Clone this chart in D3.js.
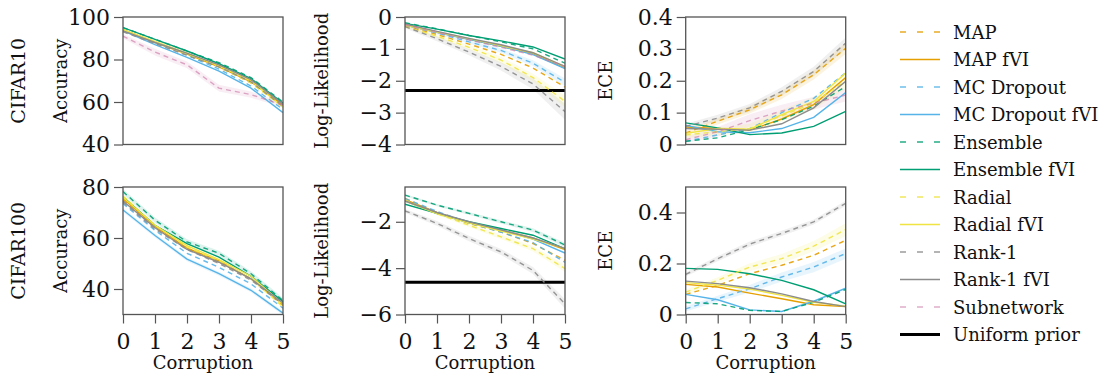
<!DOCTYPE html>
<html>
<head>
<meta charset="utf-8">
<script src="https://cdn.jsdelivr.net/npm/d3@7"></script>
<style>
  body { margin: 0; background: #fff; }
  svg { font-family: "DejaVu Serif", serif; }
</style>
</head>
<body>
<div id="chart"></div>
<script>
// methods in legend order; odd indices are the fVI (solid) variants
const methods = ["MAP", "MAP fVI", "MC Dropout", "MC Dropout fVI", "Ensemble", "Ensemble fVI",
  "Radial", "Radial fVI", "Rank-1", "Rank-1 fVI", "Subnetwork"];
const methodColors = ["#E69F00", "#E69F00", "#56B4E9", "#56B4E9", "#009E73", "#009E73",
  "#F0E442", "#F0E442", "#8c8c8c", "#8c8c8c", "#CC79A7"];
const dashed = [true, false, true, false, true, false, true, false, true, false, true];
const corruption = [0, 1, 2, 3, 4, 5];

// CIFAR10
const accC10 = [
  [94, 88, 82.5, 76.5, 69, 58],
  [94, 88, 82.5, 76.5, 69.5, 58.5],
  [94, 88, 82, 75.5, 67.5, 56.5],
  [93.5, 87, 81, 74.5, 66.5, 55],
  [95, 89.5, 84, 78.5, 71.5, 60],
  [95, 89.5, 84, 78, 71, 59.5],
  [94, 88, 82.5, 76.5, 69, 57.5],
  [94, 88.5, 83, 77, 70, 57.5],
  [93, 87.5, 82, 76.5, 69.5, 58],
  [93.5, 88, 83, 77.5, 70.5, 59],
  [91, 83.5, 77.5, 66.5, 63.5, 58.5]
];
const llC10 = [
  [-0.28, -0.55, -0.85, -1.17, -1.6, -2.2],
  [-0.25, -0.48, -0.7, -0.92, -1.15, -1.6],
  [-0.25, -0.5, -0.78, -1.05, -1.45, -2.05],
  [-0.25, -0.48, -0.7, -0.92, -1.18, -1.62],
  [-0.18, -0.37, -0.58, -0.78, -1.0, -1.45],
  [-0.2, -0.38, -0.58, -0.75, -0.94, -1.32],
  [-0.3, -0.6, -0.95, -1.35, -1.9, -2.65],
  [-0.25, -0.47, -0.68, -0.9, -1.12, -1.55],
  [-0.3, -0.68, -1.1, -1.55, -2.1, -2.97],
  [-0.22, -0.45, -0.67, -0.87, -1.12, -1.55],
  [-0.25, -0.48, -0.72, -0.95, -1.2, -1.55]
];
const eceC10 = [
  [0.036, 0.073, 0.109, 0.156, 0.219, 0.302],
  [0.055, 0.05, 0.045, 0.08, 0.125, 0.21],
  [0.01, 0.03, 0.05, 0.1, 0.145, 0.225],
  [0.06, 0.04, 0.037, 0.05, 0.085, 0.163],
  [0.01, 0.021, 0.047, 0.078, 0.12, 0.182],
  [0.068, 0.052, 0.031, 0.036, 0.057, 0.104],
  [0.03, 0.04, 0.05, 0.09, 0.13, 0.2],
  [0.035, 0.05, 0.048, 0.094, 0.135, 0.224],
  [0.057, 0.083, 0.115, 0.167, 0.229, 0.318],
  [0.05, 0.048, 0.045, 0.065, 0.115, 0.198],
  [0.015, 0.04, 0.075, 0.105, 0.13, 0.155]
];

// CIFAR100 (no Subnetwork)
const accC100 = [
  [75, 64, 56, 50.5, 44, 33.5],
  [75.5, 64.5, 56, 51, 44, 34],
  [73.5, 63, 54, 48.5, 42, 32.5],
  [71, 61, 51.7, 46, 39.5, 30.5],
  [78.2, 67, 58.5, 54, 46, 35.5],
  [76.2, 65, 57.8, 52.5, 45, 35],
  [76.5, 65, 56.5, 51, 44, 33],
  [76, 65, 57, 51.5, 45, 34],
  [74, 63.5, 55.5, 50, 43.5, 34],
  [74.5, 64, 55.5, 50.5, 44, 34.5],
  null
];
const llC100 = [
  [-0.99, -1.6, -2.07, -2.44, -2.94, -3.66],
  [-1.05, -1.6, -2.05, -2.35, -2.7, -3.2],
  [-1.0, -1.55, -2.05, -2.45, -2.9, -3.75],
  [-1.1, -1.65, -2.05, -2.35, -2.75, -3.35],
  [-0.85, -1.28, -1.64, -2.0, -2.36, -3.0],
  [-1.24, -1.64, -2.0, -2.29, -2.58, -3.16],
  [-1.06, -1.65, -2.15, -2.65, -3.16, -4.02],
  [-1.1, -1.65, -2.05, -2.4, -2.75, -3.15],
  [-1.53, -2.07, -2.72, -3.3, -4.1, -5.54],
  [-1.1, -1.6, -2.0, -2.35, -2.7, -3.15],
  null
];
const eceC100 = [
  [0.079, 0.114, 0.16, 0.193, 0.232, 0.291],
  [0.118, 0.108, 0.084, 0.062, 0.038, 0.031],
  [0.022, 0.062, 0.101, 0.147, 0.186, 0.239],
  [0.079, 0.058, 0.018, 0.012, 0.052, 0.103],
  [0.047, 0.042, 0.016, 0.012, 0.048, 0.098],
  [0.181, 0.177, 0.16, 0.134, 0.097, 0.042],
  [0.088, 0.134, 0.186, 0.219, 0.268, 0.333],
  [0.125, 0.115, 0.1, 0.075, 0.048, 0.033],
  [0.157, 0.219, 0.276, 0.318, 0.363, 0.436],
  [0.131, 0.121, 0.105, 0.081, 0.051, 0.031],
  null
];

// shaded spread (method index, +/- values)
const accC10Spread = [[10, [1.0, 1.6, 1.6, 1.6, 1.5, 1.0]]];
const llC10Spread = [[8, [0.05, 0.08, 0.1, 0.13, 0.17, 0.25]], [6, [0.03, 0.05, 0.07, 0.1, 0.12, 0.18]], [2, [0.03, 0.04, 0.05, 0.07, 0.09, 0.12]]];
const eceC10Spread = [[8, [0.008, 0.01, 0.012, 0.013, 0.015, 0.018]], [0, [0.008, 0.01, 0.012, 0.013, 0.015, 0.018]], [10, [0.01, 0.015, 0.02, 0.02, 0.02, 0.02]], [6, [0.01, 0.012, 0.015, 0.018, 0.02, 0.025]]];
const accC100Spread = [[4, [1, 1, 1, 1, 1, 1]], [3, [0.8, 0.8, 0.8, 0.8, 0.8, 0.8]]];
const llC100Spread = [[8, [0.08, 0.1, 0.12, 0.13, 0.15, 0.2]], [6, [0.05, 0.06, 0.08, 0.1, 0.12, 0.15]], [4, [0.05, 0.05, 0.06, 0.07, 0.08, 0.1]]];
const eceC100Spread = [[8, [0.008, 0.01, 0.01, 0.01, 0.01, 0.01]], [6, [0.01, 0.012, 0.015, 0.018, 0.02, 0.025]], [2, [0.01, 0.012, 0.015, 0.018, 0.02, 0.02]]];

const accC10Ticks = [40, 60, 80, 100];
const llC10Ticks = [0, -1, -2, -3, -4];
const eceC10Ticks = [0, 0.1, 0.2, 0.3, 0.4];
const accC100Ticks = [40, 60, 80];
const llC100Ticks = [-2, -4, -6];
const eceC100Ticks = [0, 0.2, 0.4];
const uniformPrior = [Math.log(0.1), Math.log(0.01)];
const rowLabels = ["CIFAR10", "CIFAR100"];
const metricLabels = ["Accuracy", "Log-Likelihood", "ECE"];

const W = 1114, H = 377;
const colX = [123, 405, 685.7], pw = 160;
const rowY = [17, 187], ph = 127.5;
const labelDx = [-56, -77, -74];

const panels = [
  { r: 0, c: 0, data: accC10, dom: [40, 100], ticks: accC10Ticks, spread: accC10Spread },
  { r: 0, c: 1, data: llC10, dom: [-4, 0], ticks: llC10Ticks, spread: llC10Spread, prior: uniformPrior[0] },
  { r: 0, c: 2, data: eceC10, dom: [0, 0.4], ticks: eceC10Ticks, spread: eceC10Spread },
  { r: 1, c: 0, data: accC100, dom: [30, 80], ticks: accC100Ticks, spread: accC100Spread },
  { r: 1, c: 1, data: llC100, dom: [-6, -0.5], ticks: llC100Ticks, spread: llC100Spread, prior: uniformPrior[1] },
  { r: 1, c: 2, data: eceC100, dom: [0, 0.5], ticks: eceC100Ticks, spread: eceC100Spread }
];

const svg = d3.select("#chart").append("svg").attr("width", W).attr("height", H);
svg.append("rect").attr("width", W).attr("height", H).attr("fill", "#fff");

const fmt = d => String(d).replace("-", "\u2212");

panels.forEach(p => {
  const g = svg.append("g").attr("transform", `translate(${colX[p.c]},${rowY[p.r]})`);
  const x = d3.scaleLinear().domain([0, 5]).range([0, pw]);
  const y = d3.scaleLinear().domain(p.dom).range([ph, 0]);

  g.append("defs").append("clipPath").attr("id", `clip${p.r}${p.c}`)
    .append("rect").attr("width", pw).attr("height", ph);
  const plot = g.append("g").attr("clip-path", `url(#clip${p.r}${p.c})`);

  // shaded spread
  const area = d3.area().x((d, i) => x(corruption[i])).y0(d => y(d[0] - d[1])).y1(d => y(d[0] + d[1]));
  p.spread.forEach(([mi, s]) => {
    const vals = p.data[mi];
    if (!vals) return;
    plot.append("path").datum(vals.map((v, i) => [v, s[i]]))
      .attr("d", area).attr("fill", methodColors[mi]).attr("opacity", 0.13);
  });

  if (p.prior !== undefined) {
    plot.append("line").attr("x1", 0).attr("x2", pw).attr("y1", y(p.prior)).attr("y2", y(p.prior))
      .attr("stroke", "#000").attr("stroke-width", 3);
  }

  const line = d3.line().x((d, i) => x(corruption[i])).y(d => y(d));
  p.data.forEach((vals, mi) => {
    if (!vals) return;
    plot.append("path").datum(vals).attr("d", line).attr("fill", "none")
      .attr("stroke", methodColors[mi]).attr("stroke-width", 1.4)
      .attr("stroke-dasharray", dashed[mi] ? "5,4" : null)
      .attr("opacity", dashed[mi] ? (mi === 10 ? 0.65 : 0.9) : 1);
  });

  // axes
  const ya = g.append("g").call(d3.axisLeft(y).tickValues(p.ticks).tickSize(9).tickPadding(4).tickFormat(fmt));
  ya.select(".domain").remove();
  ya.selectAll("line").attr("stroke", "#555").attr("stroke-width", 1.2);
  ya.selectAll("text").attr("font-size", 22).attr("font-family", "DejaVu Serif").attr("fill", "#111");

  if (p.r === 1) {
    const xa = g.append("g").attr("transform", `translate(0,${ph})`)
      .call(d3.axisBottom(x).tickValues(corruption).tickSize(9).tickPadding(10).tickFormat(d3.format("d")));
    xa.select(".domain").remove();
    xa.selectAll("line").attr("stroke", "#555").attr("stroke-width", 1.2);
    xa.selectAll("text").attr("font-size", 22).attr("font-family", "DejaVu Serif").attr("fill", "#111");
    g.append("text").attr("x", pw / 2).attr("y", 369 - rowY[1]).attr("text-anchor", "middle")
      .attr("font-size", 18).attr("fill", "#111").text("Corruption");
  }

  g.append("rect").attr("width", pw).attr("height", ph).attr("fill", "none")
    .attr("stroke", "#555").attr("stroke-width", 1.3);

  g.append("text").attr("transform", `translate(${labelDx[p.c]},${ph / 2}) rotate(-90)`)
    .attr("text-anchor", "middle").attr("font-size", 18).attr("fill", "#111").text(metricLabels[p.c]);
});

rowLabels.forEach((t, r) => {
  svg.append("text").attr("transform", `translate(25,${rowY[r] + ph / 2}) rotate(-90)`)
    .attr("text-anchor", "middle").attr("font-size", 19).attr("fill", "#111").text(t);
});

// legend
const legendItems = methods.map((m, i) => ({ name: m, color: methodColors[i], dash: dashed[i], w: 1.6 }))
  .concat([{ name: "Uniform prior", color: "#000", dash: false, w: 3 }]);
const lg = svg.append("g").attr("transform", "translate(900,32)");
legendItems.forEach((d, i) => {
  const yy = i * 27.5;
  lg.append("line").attr("x1", 0).attr("x2", 40).attr("y1", yy).attr("y2", yy)
    .attr("stroke", d.color).attr("stroke-width", d.w)
    .attr("stroke-dasharray", d.dash ? "6,11" : null)
    .attr("opacity", d.dash ? (i === 10 ? 0.6 : 0.85) : 1);
  lg.append("text").attr("x", 53).attr("y", yy + 6.5).attr("font-size", 18).attr("fill", "#111").text(d.name);
});
</script>
</body>
</html>
